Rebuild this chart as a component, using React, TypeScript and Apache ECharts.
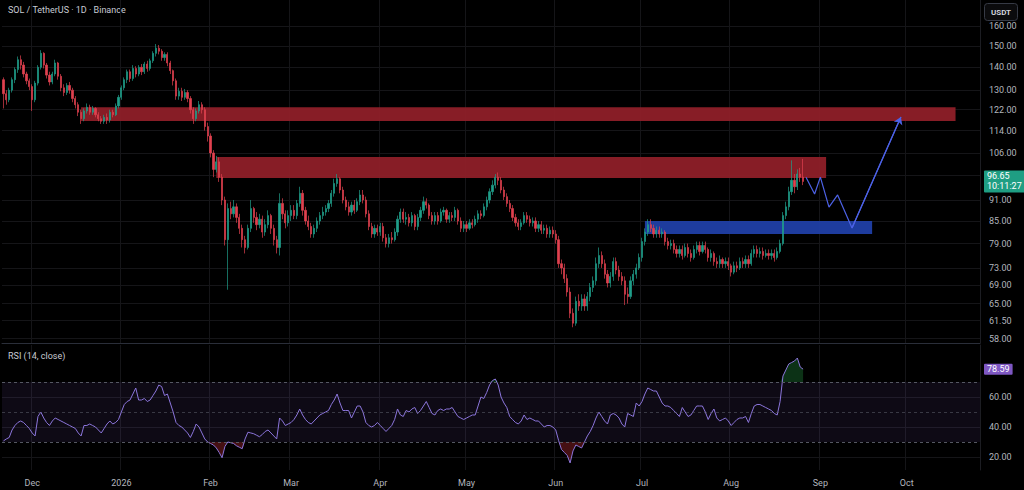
import React, { useEffect, useRef } from 'react';
import * as echarts from 'echarts';

// ---------- DATA ----------
const START_UTC = Date.UTC(2025, 10, 21); // first candle: 2025-11-21
const DAY_COUNT = 340; // axis runs to 2026-10-26
const MONTH_ABBR = ['Jan', 'Feb', 'Mar', 'Apr', 'May', 'Jun', 'Jul', 'Aug', 'Sep', 'Oct', 'Nov', 'Dec'];

// daily candles [open, close, low, high]
const CANDLES: number[][] = [
  [134.5, 128.5, 122.5, 135.5], [128.5, 126, 124, 130], [126, 130, 125, 131], [130, 134.5, 129, 135.5], [134.5, 139, 133, 140],
  [139, 143.5, 137.5, 145], [143.5, 141, 139, 145.5], [141, 137, 135.5, 142.5], [137, 134, 132.5, 138], [134, 131.5, 130, 135],
  [131.5, 126, 121.5, 132.5], [126, 133, 125, 134], [133, 140, 132, 141], [140, 146.5, 139, 148], [146.5, 141, 139.5, 147],
  [141, 136.5, 135, 142], [136.5, 133.5, 132, 138], [133.5, 137, 132.5, 138], [137, 142, 136, 143.5], [142, 136, 134.5, 142.5],
  [136, 131, 129.5, 137], [131, 129, 127.5, 132.5], [129, 132, 128, 133], [132, 130, 128.5, 133.5], [130, 126.5, 125, 131],
  [126.5, 124, 122.5, 127.5], [124, 121, 119.5, 125], [121, 118.5, 116.5, 122], [118.5, 121.5, 117.5, 122.5], [121.5, 123, 120.5, 124.5],
  [123, 121, 120, 124], [121, 122.5, 120, 123.5], [122.5, 120, 119, 123], [120, 118.5, 117.5, 121], [118.5, 117.5, 116.5, 119.5],
  [117.5, 119, 116.5, 120], [119, 118, 116.5, 120.5], [118, 121, 117, 122], [121, 120, 119, 122], [120, 123.5, 119.5, 124.5],
  [123.5, 127, 122.5, 128], [127, 131, 126, 132], [131, 134.5, 130, 135.5], [134.5, 138, 133, 139], [138, 135, 133.5, 139],
  [135, 139.5, 134, 141], [139.5, 137, 135.5, 140.5], [137, 140, 136, 141], [140, 138, 136.5, 141.5], [138, 141.5, 137, 142.5],
  [141.5, 139.5, 138, 143], [139.5, 143, 138.5, 144], [143, 146.5, 142, 147.5], [146.5, 149, 145, 151], [149, 147.5, 146, 150.5],
  [147.5, 144.5, 143, 148.5], [144.5, 146, 143, 147], [146, 142, 140.5, 147], [142, 138.5, 137, 143], [138.5, 134, 132, 139],
  [134, 127.5, 126, 135], [127.5, 129.5, 126, 131], [129.5, 127, 125.5, 131], [127, 129, 126, 130.5], [129, 126.5, 125, 130],
  [126.5, 122, 120.5, 127.5], [122, 118.5, 116.5, 123], [118.5, 121.5, 117.5, 122.5], [121.5, 124, 120.5, 125.5], [124, 122, 120.5, 125],
  [122, 115.5, 114, 123], [115.5, 112, 110, 117], [112, 106, 104.5, 113], [106, 100.5, 98, 107], [100.5, 103, 99.5, 105],
  [103, 98, 96.5, 104.5], [98, 91, 89.5, 99], [91, 80, 78.5, 92], [80, 88.5, 68, 90], [88.5, 87, 85.5, 90.5],
  [87, 89, 86, 91], [89, 86, 84.5, 90], [86, 83, 81.5, 87], [83, 80, 78, 84], [80, 78, 76.5, 81],
  [78, 83, 77.5, 84], [83, 88.5, 82, 91], [88.5, 86, 84.5, 89], [86, 84, 82.5, 87.5], [84, 85.5, 83, 87],
  [85.5, 82, 80.5, 86.5], [82, 84, 81, 85.5], [84, 86.5, 83, 88], [86.5, 83, 81.5, 87], [83, 80, 78.5, 84],
  [80, 78, 76.5, 81], [78, 90, 76, 93], [90, 87, 85.5, 91.5], [87, 84.5, 83, 88], [84.5, 86.5, 83.5, 88],
  [86.5, 88, 85, 89.5], [88, 86.5, 85.5, 89.5], [86.5, 90, 85.5, 91], [90, 93, 89, 95], [93, 88, 86.5, 94],
  [88, 85, 84, 89], [85, 83.5, 82.5, 86.5], [83.5, 81.5, 80.5, 84.5], [81.5, 83, 80.5, 84], [83, 85, 82, 86],
  [85, 86.5, 84, 87.5], [86.5, 87.5, 85.5, 89], [87.5, 88.5, 86.5, 89.5], [88.5, 90, 87.5, 91], [90, 93, 89, 94],
  [93, 96, 92, 97.5], [96, 97.5, 95, 99], [97.5, 94, 93, 98], [94, 91, 90, 95], [91, 89, 88, 92],
  [89, 87.5, 86.5, 90.5], [87.5, 89.5, 86.5, 90.5], [89.5, 88, 87, 91], [88, 90.5, 87.5, 91.5], [90.5, 92.5, 89.5, 94],
  [92.5, 91, 90, 94], [91, 87, 86, 92], [87, 83.5, 82.5, 88], [83.5, 81.5, 80.5, 84.5], [81.5, 83, 80.5, 84],
  [83, 82, 81, 84], [82, 83.5, 81, 84.5], [83.5, 80.5, 79.5, 84.5], [80.5, 79, 78, 81.5], [79, 80.5, 78, 81.5],
  [80.5, 80, 79, 82], [80, 82, 79.5, 83], [82, 85.5, 81, 86.5], [85.5, 87.5, 84.5, 88.5], [87.5, 85.5, 84.5, 88.5],
  [85.5, 86, 84, 87.5], [86, 84.5, 83.5, 87], [84.5, 86.5, 83.5, 87.5], [86.5, 83.5, 82.5, 87], [83.5, 86, 82.5, 87],
  [86, 88, 85, 89], [88, 90.5, 87, 92], [90.5, 89.5, 88.5, 91.5], [89.5, 86.5, 85.5, 90], [86.5, 85, 84, 87.5],
  [85, 86.5, 84, 87.5], [86.5, 85, 84, 87.5], [85, 87.5, 84.5, 88.5], [87.5, 88, 86.5, 89], [88, 85.5, 84.5, 88.5],
  [85.5, 86.5, 84.5, 87.5], [86.5, 86, 85, 87.5], [86, 88, 85, 89], [88, 85, 84, 88.5], [85, 83, 82, 86],
  [83, 84, 82, 85], [84, 83, 82, 85], [83, 84.5, 82.5, 85.5], [84.5, 84, 83, 85.5], [84, 85.5, 83.5, 86.5],
  [85.5, 87, 84.5, 88], [87, 86.5, 85.5, 88], [86.5, 89, 86, 90], [89, 91, 88, 92], [91, 93.5, 90, 94.5],
  [93.5, 95.5, 92.5, 97], [95.5, 98, 94.5, 99], [98, 97, 95.5, 99.5], [97, 94, 93, 98], [94, 92, 91, 95],
  [92, 90, 89, 93], [90, 88.5, 87.5, 91], [88.5, 86, 85, 89.5], [86, 84.5, 83.5, 87], [84.5, 83.5, 82.5, 85.5],
  [83.5, 84.5, 82.5, 85.5], [84.5, 86.5, 84, 87.5], [86.5, 85.5, 84.5, 87.5], [85.5, 84.5, 83.5, 86.5], [84.5, 85, 83.5, 86],
  [85, 83, 82, 86], [83, 84, 82, 85], [84, 82.5, 81.5, 85], [82.5, 83, 81.5, 84], [83, 81.5, 80.5, 84],
  [81.5, 82.5, 80.5, 83.5], [82.5, 81.5, 80.5, 83.5], [81.5, 80, 79, 82.5], [80, 74, 73, 81], [74, 73, 71.5, 75],
  [73, 70.5, 69.5, 74], [70.5, 67.5, 66.5, 71.5], [67.5, 63, 62, 68.5], [63, 61, 60.2, 64], [61, 65.5, 60.5, 66.5],
  [65.5, 64.5, 63.5, 67], [64.5, 66, 63.5, 67], [66, 64.5, 63.5, 67], [64.5, 66.5, 63.5, 67.5], [66.5, 68.5, 65.5, 69.5],
  [68.5, 70, 67.5, 71], [70, 74, 69, 75.5], [74, 76, 73, 78], [76, 74, 73, 77], [74, 71.5, 70.5, 75],
  [71.5, 69.5, 68.5, 72.5], [69.5, 71, 68.5, 72], [71, 74.5, 70, 75.5], [74.5, 72.5, 71.5, 75.5], [72.5, 71, 70, 73.5],
  [71, 70, 69, 72], [70, 67, 64.7, 71], [67, 66.5, 65, 68.5], [66.5, 70, 66, 71], [70, 71.5, 69, 72.5],
  [71.5, 73, 70.5, 74], [73, 75.5, 72.5, 76.5], [75.5, 79.5, 74.5, 80.5], [79.5, 82, 78.5, 83], [82, 84, 81, 85.5],
  [84, 83, 82, 85.5], [83, 81.5, 80.5, 84], [81.5, 82.5, 80.5, 83.5], [82.5, 81.5, 80.5, 83.5], [81.5, 82, 80.5, 83],
  [82, 79.5, 78.5, 82.5], [79.5, 78.5, 77.5, 80.5], [78.5, 79, 77.5, 80], [79, 77.5, 76.5, 80], [77.5, 76.5, 75.5, 78.5],
  [76.5, 77.5, 75.5, 78.5], [77.5, 76, 75, 78.5], [76, 78, 75.5, 79], [78, 76.5, 75.5, 79], [76.5, 75.5, 74.5, 77.5],
  [75.5, 77.5, 75, 78.5], [77.5, 78.5, 76.5, 79.5], [78.5, 77, 76, 79.5], [77, 78.5, 76.5, 79.5], [78.5, 77.5, 76.5, 79.5],
  [77.5, 75.5, 74.5, 78], [75.5, 76.5, 74.5, 77.5], [76.5, 74.5, 73.5, 77], [74.5, 74, 73, 75.5], [74, 75, 73, 76],
  [75, 74, 73, 75.5], [74, 74.5, 73, 75.5], [74.5, 73.5, 72.5, 75.5], [73.5, 72, 71, 74], [72, 73.5, 71.5, 74.5],
  [73.5, 73, 72, 74.5], [73, 74.5, 72.5, 75.5], [74.5, 74, 73, 75.5], [74, 75, 73, 76], [75, 74, 73, 76],
  [74, 76.5, 73.5, 77.5], [76.5, 77.5, 75.5, 78.5], [77.5, 76.5, 75.5, 78.5], [76.5, 77, 75.5, 78], [77, 76, 75, 78],
  [76, 76.5, 75.5, 77.5], [76.5, 76, 75, 77.5], [76, 76.5, 75, 77.5], [76.5, 75.5, 74.5, 77.5], [75.5, 77, 75, 78],
  [77, 79, 76.5, 80], [79, 86.5, 78.5, 87.5], [86.5, 89, 85.5, 90.5], [89, 93.5, 88, 95], [93.5, 97, 92.5, 103.5],
  [97, 95, 93, 99], [95, 99, 94, 100.5], [99, 98, 96.5, 101], [98, 96.65, 95.5, 104],
];

// RSI(14, close), one value per candle
const RSI: number[] = [
  30.7, 32, 33, 38, 41, 43, 44, 43, 41, 39,
  36, 34, 47, 50, 46, 43, 41, 44, 46, 45,
  44, 43, 42, 41, 40, 39, 36, 34, 41, 41,
  42, 41, 40, 38, 36, 39, 42, 44, 42, 43,
  45, 50, 55, 57, 58, 62, 66, 58, 58, 59,
  57, 58, 61, 64, 68, 67, 61, 62, 56, 50,
  43, 41, 40, 38, 36, 33, 37, 42, 40, 36,
  32, 30, 29, 28, 26, 23, 19.5, 27, 30, 29.5,
  29, 27.5, 26.5, 25.5, 32, 36.5, 36, 35.5, 34.5, 33.5,
  35, 37, 38, 36, 34, 32, 46, 44, 41, 42,
  43, 45, 48, 52, 48, 45, 43, 42, 44, 46,
  48, 49, 50, 51, 55, 58, 62, 56, 51, 51,
  51, 46, 50, 54, 54, 50, 43, 41, 40, 41,
  43, 41, 39, 37, 39, 41, 45, 52, 48, 47,
  51, 50, 52, 53, 49, 51, 54, 57, 53, 49,
  48, 51, 52, 51, 52, 52, 53, 50, 47, 46,
  45, 46, 47, 48, 48, 54, 60, 59, 63, 68,
  71, 72, 68, 60, 56, 53, 47, 45, 43, 42,
  44, 48, 45, 46, 45, 44, 44, 42, 40, 41,
  41, 40, 38, 31, 25, 23, 21, 16, 24, 28,
  27, 26, 30, 34, 37, 41, 46, 50, 47, 44,
  42, 48, 49, 48, 46, 42, 40, 49, 48, 47,
  56, 54, 57, 62, 66, 65, 64, 64, 60, 56,
  54, 54, 53, 51, 49, 47, 53, 50, 47, 48,
  51, 54, 54, 54, 50, 45, 49, 52, 46, 44,
  45, 46, 44, 41, 43, 45, 46, 46, 47, 43,
  49, 54, 55, 55, 54, 53, 52, 51, 49, 48,
  57, 74, 78, 82, 83, 84, 86, 80, 78.59,
];

const PRICE_TICKS = [58, 61.5, 65, 69, 73, 79, 85, 91, 98.5, 106, 114, 122, 130, 140, 150, 160];
const RSI_TICKS = [20, 40, 60];
const RSI_LEVELS = [70, 50, 30];
const COUNTDOWN = '10:11:27';

// drawn zones (supply = red, demand = blue)
const ZONE_START = ['2025-12-18', '2026-02-03', '2026-07-02'];
const ZONE_END = ['2026-10-18', '2026-09-03', '2026-09-19'];
const ZONE_TOP = [123.0, 104.6, 85.0];
const ZONE_BOTTOM = [117.6, 97.7, 81.5];
const ZONE_KIND = ['supply', 'supply', 'demand'];

// projected path drawn as an arrow
const PATH_DATES = ['2026-08-27', '2026-08-30', '2026-09-01', '2026-09-04', '2026-09-07', '2026-09-12', '2026-09-29'];
const PATH_PRICES = [98.0, 92.8, 98.0, 88.9, 92.5, 83.1, 119.1];

// ---------- STYLE ----------
const UP = '#1f9e89';
const DOWN = '#e0414f';
const ZONE_COLOR: Record<string, string> = { supply: '#931f29', demand: '#2141ab' };
const PATH_COLOR = '#4d62e6';
const RSI_COLOR = '#8c76dc';
const TEXT = '#b2b5be';
const GRID_LINE = '#151518';
const FONT = 'Roboto, "Noto Sans", sans-serif';
const HIDDEN_LINE = { color: 'rgba(0,0,0,0)', width: 0 };

const DATES: string[] = [];
for (let i = 0; i < DAY_COUNT; i++) {
  DATES.push(new Date(START_UTC + i * 86400000).toISOString().slice(0, 10));
}
const isMonthStart = (_i: number, v: string) => v.endsWith('-01');
const monthLabel = (v: string) => {
  const [y, m, d] = v.split('-');
  if (d !== '01') return '';
  return m === '01' ? y : MONTH_ABBR[Number(m) - 1];
};

export default function App() {
  const ref = useRef<HTMLDivElement>(null);

  useEffect(() => {
    if (!ref.current) return;
    const chart = echarts.init(ref.current, undefined, { renderer: 'svg' });

    const lastClose = CANDLES[CANDLES.length - 1][1];
    const lastRsi = RSI[RSI.length - 1];

    // overbought / oversold fills derived from RSI
    const obBase: (number | string)[] = [];
    const obDiff: (number | string)[] = [];
    const osBase: (number | string)[] = [];
    const osDiff: (number | string)[] = [];
    RSI.forEach((v, i) => {
      const prev = i > 0 ? RSI[i - 1] : v;
      const next = i < RSI.length - 1 ? RSI[i + 1] : v;
      if (v > 70 || prev > 70 || next > 70) {
        obBase.push(70);
        obDiff.push(Math.max(v - 70, 0));
      } else {
        obBase.push('-');
        obDiff.push('-');
      }
      if (v < 30 || prev < 30 || next < 30) {
        const b = Math.min(v, 30);
        osBase.push(b);
        osDiff.push(30 - b);
      } else {
        osBase.push('-');
        osDiff.push('-');
      }
    });

    const zones = ZONE_START.map((s, i) => [
      { xAxis: s, yAxis: ZONE_TOP[i], itemStyle: { color: ZONE_COLOR[ZONE_KIND[i]] } },
      { xAxis: ZONE_END[i], yAxis: ZONE_BOTTOM[i] },
    ]);

    const n = PATH_DATES.length;

    const option: any = {
      animation: false,
      backgroundColor: '#000000',
      textStyle: { fontFamily: FONT },
      graphic: [
        {
          type: 'text', left: 8, top: 5,
          style: { text: 'SOL / TetherUS · 1D · Binance', fill: '#c8cbd3', fontSize: 9, fontFamily: FONT },
        },
        {
          type: 'text', left: 8, top: 351,
          style: { text: 'RSI (14, close)', fill: '#c8cbd3', fontSize: 9, fontFamily: FONT },
        },
        {
          type: 'group', right: 6, top: 3,
          children: [
            { type: 'rect', shape: { x: 0, y: 0, width: 33, height: 17, r: 3 }, style: { fill: '#0b0b0d', stroke: '#363a45', lineWidth: 1 } },
            { type: 'text', x: 16.5, y: 8.5, style: { text: 'USDT', fill: '#d1d4dc', fontSize: 8, fontWeight: 'bold', align: 'center', verticalAlign: 'middle', fontFamily: FONT } },
          ],
        },
      ],
      grid: [
        { left: 2, right: 44, top: 0, height: 343 },
        { left: 2, right: 44, top: 345, height: 125 },
      ],
      xAxis: [
        {
          type: 'category', gridIndex: 0, data: DATES, boundaryGap: true,
          axisLine: { show: true, lineStyle: { color: '#2a2e39' } },
          axisTick: { show: false }, axisLabel: { show: false },
          splitLine: { show: true, interval: isMonthStart, lineStyle: { color: GRID_LINE } },
        },
        {
          type: 'category', gridIndex: 1, data: DATES, boundaryGap: true,
          axisLine: { show: false }, axisTick: { show: false },
          axisLabel: { interval: isMonthStart, formatter: monthLabel, color: TEXT, fontSize: 9, margin: 8 },
          splitLine: { show: true, interval: isMonthStart, lineStyle: { color: GRID_LINE } },
        },
      ],
      yAxis: [
        {
          type: 'log', gridIndex: 0, position: 'right', min: 57.2, max: 174.2,
          axisLine: { show: true, lineStyle: { color: '#1c1d22' } },
          axisTick: { show: false, customValues: PRICE_TICKS },
          axisLabel: {
            customValues: PRICE_TICKS, formatter: (v: number) => v.toFixed(2),
            color: TEXT, fontSize: 9, margin: 9, showMaxLabel: true, showMinLabel: true, hideOverlap: false,
          },
          splitLine: { show: true, lineStyle: { color: GRID_LINE } },
        },
        {
          type: 'value', gridIndex: 1, position: 'right', min: 11.3, max: 94.7,
          axisLine: { show: true, lineStyle: { color: '#1c1d22' } },
          axisTick: { show: false, customValues: RSI_TICKS },
          axisLabel: { customValues: RSI_TICKS, formatter: (v: number) => v.toFixed(2), color: TEXT, fontSize: 9, margin: 9 },
          splitLine: { show: true, lineStyle: { color: GRID_LINE } },
        },
      ],
      series: [
        {
          type: 'candlestick', name: 'SOLUSDT', xAxisIndex: 0, yAxisIndex: 0,
          data: CANDLES, barWidth: 1.7,
          itemStyle: { color: UP, color0: DOWN, borderColor: UP, borderColor0: DOWN, borderWidth: 0.7 },
          markArea: { silent: true, itemStyle: { opacity: 0.92 }, data: zones },
          markLine: {
            silent: true, symbol: ['none', 'none'],
            lineStyle: HIDDEN_LINE,
            label: {
              show: true, position: 'end', distance: 4,
              formatter: () => `${lastClose.toFixed(2)}\n${COUNTDOWN}`,
              backgroundColor: '#1f9e83', color: '#ffffff', fontSize: 9, lineHeight: 10,
              padding: [1, 3, 1, 3], borderRadius: 1, fontFamily: FONT,
            },
            data: [{ yAxis: lastClose }],
          },
          z: 3,
        },
        {
          type: 'line', name: 'path', xAxisIndex: 0, yAxisIndex: 0,
          data: PATH_DATES.map((d, i) => [d, PATH_PRICES[i]]),
          symbol: 'none', lineStyle: { color: PATH_COLOR, width: 1.2 },
          markLine: {
            silent: true, symbol: ['none', 'arrow'], symbolSize: 7,
            lineStyle: { color: PATH_COLOR, width: 1.2, type: 'solid' },
            label: { show: false },
            data: [[
              { coord: [PATH_DATES[n - 2], PATH_PRICES[n - 2]] },
              { coord: [PATH_DATES[n - 1], PATH_PRICES[n - 1]] },
            ]],
          },
          z: 5,
        },
        {
          type: 'line', name: 'RSI', xAxisIndex: 1, yAxisIndex: 1, data: RSI,
          symbol: 'none', lineStyle: { color: RSI_COLOR, width: 1 }, z: 4,
          markArea: {
            silent: true, itemStyle: { color: 'rgba(126,87,194,0.11)' },
            data: [[{ yAxis: 70 }, { yAxis: 30 }]],
          },
          markLine: {
            silent: true, symbol: ['none', 'none'],
            data: [
              ...RSI_LEVELS.map((lv) => ({
                yAxis: lv,
                lineStyle: { color: '#5d606b', type: [3, 3], width: 1, opacity: lv === 50 ? 0.55 : 0.9 },
                label: { show: false },
              })),
              {
                yAxis: lastRsi,
                lineStyle: HIDDEN_LINE,
                label: {
                  show: true, position: 'end', distance: 4, formatter: () => lastRsi.toFixed(2),
                  backgroundColor: '#7e57c2', color: '#ffffff', fontSize: 9, padding: [1, 3, 1, 3],
                  borderRadius: 1, fontFamily: FONT,
                },
              },
            ],
          },
        },
        {
          type: 'line', xAxisIndex: 1, yAxisIndex: 1, data: obBase, stack: 'ob',
          symbol: 'none', lineStyle: { opacity: 0 }, silent: true, z: 2,
        },
        {
          type: 'line', xAxisIndex: 1, yAxisIndex: 1, data: obDiff, stack: 'ob',
          symbol: 'none', lineStyle: { opacity: 0 }, silent: true, z: 2,
          areaStyle: { color: 'rgba(38,160,70,0.45)' },
        },
        {
          type: 'line', xAxisIndex: 1, yAxisIndex: 1, data: osBase, stack: 'os',
          symbol: 'none', lineStyle: { opacity: 0 }, silent: true, z: 2,
        },
        {
          type: 'line', xAxisIndex: 1, yAxisIndex: 1, data: osDiff, stack: 'os',
          symbol: 'none', lineStyle: { opacity: 0 }, silent: true, z: 2,
          areaStyle: { color: 'rgba(220,50,60,0.45)' },
        },
      ],
    };

    chart.setOption(option);
    return () => chart.dispose();
  }, []);

  return (
    <div
      ref={ref}
      style={{ position: 'fixed', left: 0, top: 0, width: 1024, height: 490, background: '#000' }}
    />
  );
}
